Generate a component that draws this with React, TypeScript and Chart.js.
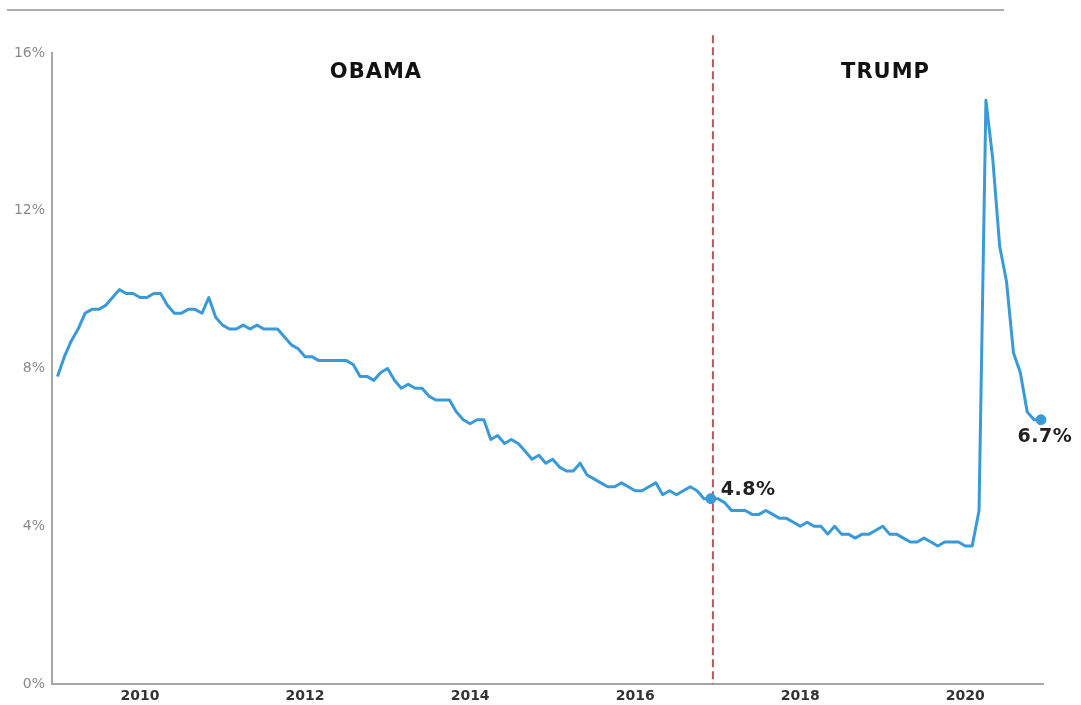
import { useEffect, useRef } from 'react';
import { Chart, registerables } from 'chart.js';

Chart.register(...registerables);

// Monthly unemployment rate (%), Jan 2009 – Dec 2020
const rate2009 = [7.8, 8.3, 8.7, 9.0, 9.4, 9.5, 9.5, 9.6, 9.8, 10.0, 9.9, 9.9];
const rate2010 = [9.8, 9.8, 9.9, 9.9, 9.6, 9.4, 9.4, 9.5, 9.5, 9.4, 9.8, 9.3];
const rate2011 = [9.1, 9.0, 9.0, 9.1, 9.0, 9.1, 9.0, 9.0, 9.0, 8.8, 8.6, 8.5];
const rate2012 = [8.3, 8.3, 8.2, 8.2, 8.2, 8.2, 8.2, 8.1, 7.8, 7.8, 7.7, 7.9];
const rate2013 = [8.0, 7.7, 7.5, 7.6, 7.5, 7.5, 7.3, 7.2, 7.2, 7.2, 6.9, 6.7];
const rate2014 = [6.6, 6.7, 6.7, 6.2, 6.3, 6.1, 6.2, 6.1, 5.9, 5.7, 5.8, 5.6];
const rate2015 = [5.7, 5.5, 5.4, 5.4, 5.6, 5.3, 5.2, 5.1, 5.0, 5.0, 5.1, 5.0];
const rate2016 = [4.9, 4.9, 5.0, 5.1, 4.8, 4.9, 4.8, 4.9, 5.0, 4.9, 4.7, 4.7];
const rate2017 = [4.7, 4.6, 4.4, 4.4, 4.4, 4.3, 4.3, 4.4, 4.3, 4.2, 4.2, 4.1];
const rate2018 = [4.0, 4.1, 4.0, 4.0, 3.8, 4.0, 3.8, 3.8, 3.7, 3.8, 3.8, 3.9];
const rate2019 = [4.0, 3.8, 3.8, 3.7, 3.6, 3.6, 3.7, 3.6, 3.5, 3.6, 3.6, 3.6];
const rate2020 = [3.5, 3.5, 4.4, 14.8, 13.3, 11.1, 10.2, 8.4, 7.9, 6.9, 6.7, 6.7];

const monthlyRates = [
  ...rate2009, ...rate2010, ...rate2011, ...rate2012, ...rate2013, ...rate2014,
  ...rate2015, ...rate2016, ...rate2017, ...rate2018, ...rate2019, ...rate2020,
];

const firstYear = 2009;
const yearTickLabels = ['2010', '2012', '2014', '2016', '2018', '2020'];
const yTickValues = [0, 4, 8, 12, 16];

const calloutIndices = [95, 143];
const calloutLabels = ['4.8%', '6.7%'];

const eraLabels = ['OBAMA', 'TRUMP'];
const eraCenterMonths = [46.3, 120.4];
const eraLevel = 15.5;
const transitionMonth = 95.3;

const LINE_COLOR = '#3a9ad8';

const annotationPlugin = {
  id: 'annotations',
  beforeDatasetsDraw(chart: any) {
    const { ctx, chartArea } = chart;
    const x = chart.scales.x;
    const y = chart.scales.y;
    const px = x.getPixelForValue(transitionMonth);
    ctx.save();
    ctx.strokeStyle = '#b3585c';
    ctx.lineWidth = 2;
    ctx.setLineDash([8, 4]);
    ctx.beginPath();
    ctx.moveTo(px, y.getPixelForValue(16.45));
    ctx.lineTo(px, chartArea.bottom);
    ctx.stroke();
    ctx.restore();
  },
  afterDatasetsDraw(chart: any) {
    const { ctx } = chart;
    const x = chart.scales.x;
    const y = chart.scales.y;
    ctx.save();
    ctx.fillStyle = '#111';
    ctx.font = 'bold 21px "DejaVu Sans"';
    (ctx as any).letterSpacing = '1px';
    ctx.textAlign = 'center';
    ctx.textBaseline = 'middle';
    eraLabels.forEach((label, i) => {
      ctx.fillText(label, x.getPixelForValue(eraCenterMonths[i]), y.getPixelForValue(eraLevel));
    });
    (ctx as any).letterSpacing = '0.5px';
    const meta = chart.getDatasetMeta(0);
    ctx.fillStyle = '#222';
    ctx.font = 'bold 19px "DejaVu Sans"';
    calloutIndices.forEach((idx, i) => {
      const el = meta.data[idx];
      if (!el) return;
      if (i === 0) {
        ctx.textAlign = 'left';
        ctx.fillText(calloutLabels[i], el.x + 10, el.y - 9);
      } else {
        ctx.textAlign = 'center';
        ctx.fillText(calloutLabels[i], el.x + 4, el.y + 17);
      }
    });
    ctx.restore();
  },
};

export default function App() {
  const canvasRef = useRef<HTMLCanvasElement | null>(null);

  useEffect(() => {
    if (!canvasRef.current) return;
    const points = monthlyRates.map((v, i) => ({ x: i, y: v }));
    const yearTickValues = yearTickLabels.map((l) => (Number(l) - firstYear) * 12);
    const chart = new Chart(canvasRef.current, {
      type: 'line',
      data: {
        datasets: [
          {
            data: points,
            borderColor: LINE_COLOR,
            backgroundColor: LINE_COLOR,
            borderWidth: 3,
            tension: 0,
            clip: false,
            borderJoinStyle: 'round',
            pointRadius: (c: any) => (calloutIndices.includes(c.dataIndex) ? 5 : 0),
            pointBackgroundColor: LINE_COLOR,
            pointBorderColor: LINE_COLOR,
            pointBorderWidth: 1,
          } as any,
        ],
      },
      options: {
        animation: false,
        responsive: false,
        events: [],
        layout: { padding: { top: 53, right: 38, left: 0, bottom: 0 } },
        plugins: { legend: { display: false }, tooltip: { enabled: false } },
        scales: {
          x: {
            type: 'linear',
            min: -0.8,
            max: 143.3,
            grid: { display: false, drawTicks: false },
            border: { display: true, color: '#a6a6a6', width: 2 },
            afterBuildTicks: (s: any) => {
              s.ticks = yearTickValues.map((v) => ({ value: v }));
            },
            afterFit: (s: any) => {
              s.height = 21;
            },
            ticks: {
              autoSkip: false,
              maxRotation: 0,
              padding: 4,
              color: '#333',
              font: { family: '"DejaVu Sans"', size: 14, weight: 'bold' },
              callback: (v: any) => {
                const i = yearTickValues.indexOf(Number(v));
                return i >= 0 ? yearTickLabels[i] : '';
              },
            },
          },
          y: {
            type: 'linear',
            min: 0,
            max: 16,
            grid: { display: false, drawTicks: false },
            border: { display: true, color: '#a6a6a6', width: 2 },
            afterBuildTicks: (s: any) => {
              s.ticks = yTickValues.map((v) => ({ value: v }));
            },
            afterFit: (s: any) => {
              s.width = 52;
            },
            ticks: {
              padding: 7,
              color: '#8a8a8a',
              font: { family: '"DejaVu Sans"', size: 14 },
              callback: (v: any) => `${v}%`,
            },
          },
        },
      } as any,
      plugins: [annotationPlugin],
    });
    return () => chart.destroy();
  }, []);

  return (
    <div style={{ position: 'absolute', left: 0, top: 0, width: 1081, height: 705, background: '#fff', overflow: 'hidden' }}>
      <div style={{ position: 'absolute', left: 7, top: 9, width: 997, height: 0, borderTop: '2px solid #adadad' }} />
      <canvas ref={canvasRef} width={1081} height={705} style={{ display: 'block' }} />
    </div>
  );
}
